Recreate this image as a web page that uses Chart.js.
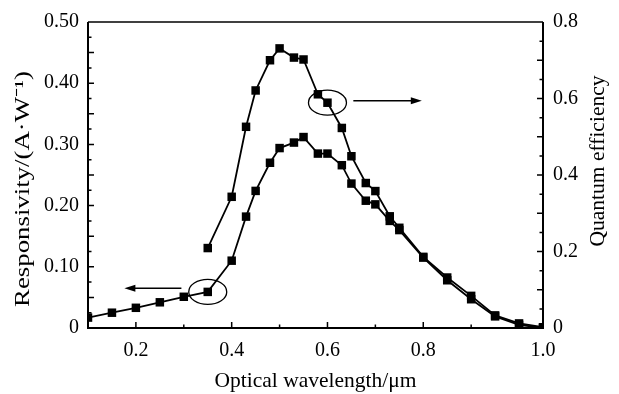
<!DOCTYPE html>
<html>
<head>
<meta charset="utf-8">
<script src="https://cdn.jsdelivr.net/npm/chart.js@4/dist/chart.umd.min.js"></script>
<style>
  html, body { margin: 0; padding: 0; background: #fff; }
  #wrap { width: 619px; height: 394px; position: relative; }
</style>
</head>
<body>
<div id="wrap"><canvas id="c"></canvas></div>
<script>
// Wavelength (µm) for responsivity (left axis)
const respWavelength = [0.10,0.15,0.20,0.25,0.30,0.35,0.40,0.43,0.45,0.48,0.50,0.53,0.55,0.58,0.60,0.63,0.65,0.68,0.70,0.73,0.75,0.80,0.85,0.90,0.95,1.00,1.05];
const responsivity   = [0.017,0.025,0.033,0.042,0.051,0.059,0.110,0.182,0.224,0.270,0.294,0.303,0.312,0.285,0.285,0.266,0.236,0.208,0.202,0.175,0.160,0.115,0.078,0.047,0.019,0.005,0.000];
// Wavelength (µm) for quantum efficiency (right axis)
const qeWavelength = [0.35,0.40,0.43,0.45,0.48,0.50,0.53,0.55,0.58,0.60,0.63,0.65,0.68,0.70,0.73,0.75,0.80,0.85,0.90,0.95,1.00,1.05];
const quantumEff   = [0.209,0.343,0.526,0.621,0.700,0.731,0.707,0.702,0.611,0.589,0.523,0.449,0.379,0.358,0.292,0.262,0.186,0.132,0.084,0.033,0.012,0.002];

// Tick labels
const xTickValues = [0.2,0.4,0.6,0.8,1.05];
const xTickLabels = ['0.2','0.4','0.6','0.8','1.0'];
const xMinorTicks = [0.3,0.5,0.7,0.9];
const leftTickValues = [0,0.1,0.2,0.3,0.4,0.5];
const leftTickLabels = ['0','0.10','0.20','0.30','0.40','0.50'];
const rightTickValues = [0,0.2,0.4,0.6,0.8];
const rightTickLabels = ['0','0.2','0.4','0.6','0.8'];

// Axis titles
const xTitle = 'Optical wavelength/μm';
const leftTitle = 'Responsivity/(A·W⁻¹)';
const rightTitle = 'Quantum efficiency';

// Annotations (in data units)
const circles = [ {axis:'y', x:0.35, y:0.059}, {axis:'y2', x:0.60, y:0.589} ];
const arrows  = [ {axis:'y', x1:0.295, x2:0.176, y:0.065}, {axis:'y2', x1:0.654, x2:0.797, y:0.594} ];

const FONT = "'Liberation Serif', 'Times New Roman', serif";

const framePlugin = {
  id: 'frame',
  afterDatasetsDraw(chart) {
    const {ctx, chartArea: a, scales} = chart;
    const xs = scales.x, yl = scales.y, yr = scales.y2;
    ctx.save();
    ctx.strokeStyle = '#000';
    // inward ticks
    ctx.lineWidth = 1.5;
    ctx.beginPath();
    for (let v = 0.025; v < 0.5; v += 0.025) {
      const py = yl.getPixelForValue(v);
      const major = Math.abs(Math.round(v / 0.05) * 0.05 - v) < 1e-6;
      ctx.moveTo(a.left, py); ctx.lineTo(a.left + (major ? 6 : 3.5), py);
    }
    for (let v = 0.05; v < 0.8; v += 0.05) {
      const py = yr.getPixelForValue(v);
      const major = Math.abs(Math.round(v / 0.1) * 0.1 - v) < 1e-6;
      ctx.moveTo(a.right, py); ctx.lineTo(a.right - (major ? 6 : 3.5), py);
    }
    xTickValues.slice(0, 4).forEach(v => {
      const px = xs.getPixelForValue(v);
      ctx.moveTo(px, a.bottom); ctx.lineTo(px, a.bottom - 6);
    });
    xMinorTicks.forEach(v => {
      const px = xs.getPixelForValue(v);
      ctx.moveTo(px, a.bottom); ctx.lineTo(px, a.bottom - 3.5);
    });
    ctx.stroke();
    // frame
    ctx.lineWidth = 2;
    ctx.beginPath();
    ctx.moveTo(a.left, a.top); ctx.lineTo(a.left, a.bottom); ctx.lineTo(a.right, a.bottom); ctx.lineTo(a.right, a.top);
    ctx.stroke();
    ctx.lineWidth = 1.5;
    ctx.beginPath();
    ctx.moveTo(a.left, a.top); ctx.lineTo(a.right, a.top);
    ctx.stroke();
    // circles
    ctx.lineWidth = 1.3;
    circles.forEach(c => {
      const cx = xs.getPixelForValue(c.x), cy = scales[c.axis].getPixelForValue(c.y);
      ctx.beginPath();
      ctx.ellipse(cx, cy, 19, 12.5, 0, 0, Math.PI * 2);
      ctx.stroke();
    });
    // arrows
    arrows.forEach(ar => {
      const x1 = xs.getPixelForValue(ar.x1), x2 = xs.getPixelForValue(ar.x2);
      const y = scales[ar.axis].getPixelForValue(ar.y);
      const dir = Math.sign(x2 - x1);
      ctx.lineWidth = 1.5;
      ctx.beginPath();
      ctx.moveTo(x1, y); ctx.lineTo(x2 - dir * 8, y);
      ctx.stroke();
      ctx.fillStyle = '#000';
      ctx.beginPath();
      ctx.moveTo(x2, y);
      ctx.lineTo(x2 - dir * 11, y - 3.5);
      ctx.lineTo(x2 - dir * 11, y + 3.5);
      ctx.closePath();
      ctx.fill();
    });
    // vertical axis titles (both read bottom-to-top)
    ctx.fillStyle = '#000';
    ctx.textAlign = 'center';
    ctx.textBaseline = 'middle';
    // left
    ctx.save();
    ctx.font = '21px ' + FONT;
    ctx.translate(23, 189);
    ctx.rotate(-Math.PI / 2);
    const lw = ctx.measureText(leftTitle).width;
    ctx.scale(236 / lw, 1);
    ctx.fillText(leftTitle, 0, 0);
    ctx.restore();
    // right
    ctx.save();
    ctx.font = '21.5px ' + FONT;
    ctx.translate(598, 161);
    ctx.rotate(-Math.PI / 2);
    ctx.fillText(rightTitle, 0, 0);
    ctx.restore();
    ctx.restore();
  }
};

new Chart(document.getElementById('c'), {
  type: 'line',
  data: {
    datasets: [
      {
        label: 'Responsivity',
        data: respWavelength.map((x, i) => ({x, y: responsivity[i]})),
        yAxisID: 'y',
        borderColor: '#000', backgroundColor: '#000',
        borderWidth: 1.8, pointStyle: 'rect', pointRadius: 6, pointBorderWidth: 0,
        tension: 0
      },
      {
        label: 'Quantum efficiency',
        data: qeWavelength.map((x, i) => ({x, y: quantumEff[i]})),
        yAxisID: 'y2',
        borderColor: '#000', backgroundColor: '#000',
        borderWidth: 1.8, pointStyle: 'rect', pointRadius: 6, pointBorderWidth: 0,
        tension: 0
      }
    ]
  },
  options: {
    responsive: true,
    maintainAspectRatio: false,
    animation: false,
    layout: { padding: { top: 14, right: 0, left: 0, bottom: 0 } },
    plugins: { legend: { display: false }, tooltip: { enabled: false } },
    scales: {
      x: {
        type: 'linear', min: 0.1, max: 1.05,
        afterBuildTicks: s => { s.ticks = xTickValues.map(v => ({value: v})); },
        afterFit: s => { s.height = 66; },
        grid: { display: false, drawTicks: false },
        border: { display: false },
        ticks: {
          color: '#000', font: { family: FONT, size: 20 }, padding: 11, maxRotation: 0,
          callback: (v, i) => xTickLabels[i]
        },
        title: { display: true, text: xTitle, color: '#000', font: { family: FONT, size: 21.5 }, padding: { top: 2, bottom: 0 } }
      },
      y: {
        type: 'linear', position: 'left', min: 0, max: 0.5,
        afterBuildTicks: s => { s.ticks = leftTickValues.map(v => ({value: v})); },
        afterFit: s => { s.width = 88; },
        grid: { display: false, drawTicks: false },
        border: { display: false },
        ticks: {
          color: '#000', font: { family: FONT, size: 20 }, padding: 9,
          callback: (v, i) => leftTickLabels[i]
        }
      },
      y2: {
        type: 'linear', position: 'right', min: 0, max: 0.8,
        afterBuildTicks: s => { s.ticks = rightTickValues.map(v => ({value: v})); },
        afterFit: s => { s.width = 76; },
        grid: { display: false, drawTicks: false },
        border: { display: false },
        ticks: {
          color: '#000', font: { family: FONT, size: 20 }, padding: 10,
          callback: (v, i) => rightTickLabels[i]
        }
      }
    }
  },
  plugins: [framePlugin]
});
</script>
</body>
</html>
